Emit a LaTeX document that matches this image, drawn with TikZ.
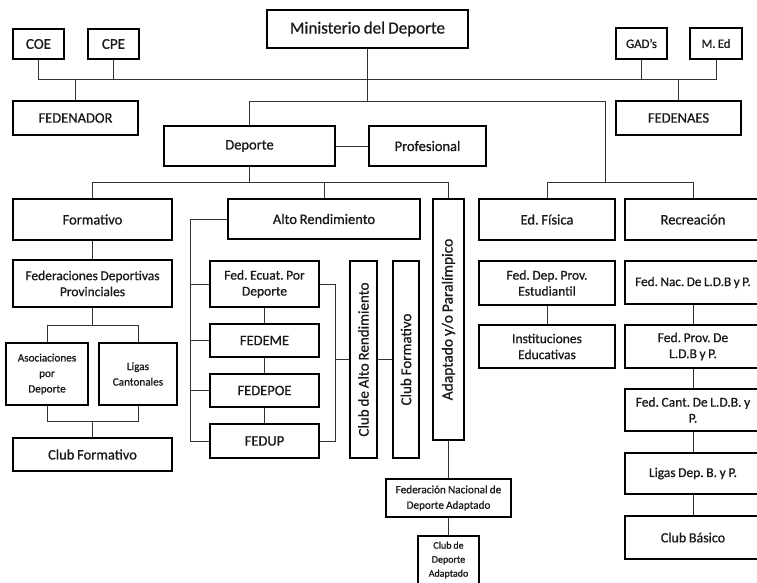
\documentclass[tikz,border=0pt]{standalone}
\usepackage{fontspec}
\setmainfont{Carlito}[FakeBold=0.8, WordSpace=0.85]
\frenchspacing
\begin{document}
\begin{tikzpicture}[x=1pt,y=-1pt,
  box/.style={draw=black, line width=1.8pt, align=center, inner sep=1pt, text=black!90, font=\fontsize{14.5}{16}\selectfont},
  mid/.style={font=\fontsize{13.5}{16}\selectfont},
  small/.style={font=\fontsize{11.2}{15.5}\selectfont},
  vlabel/.style={rotate=90, text=black!90, inner sep=0pt, font=\fontsize{15}{16}\selectfont},
  conn/.style={draw=black!80, line width=1pt}]
\useasboundingbox (0,0) rectangle (757,582);

% top level
\node[box, minimum width=51pt, minimum height=30pt, font=\fontsize{15}{16}\selectfont] (coe) at (38.5,44) {COE};
\node[box, minimum width=51pt, minimum height=30pt, font=\fontsize{15}{16}\selectfont] (cpe) at (113.5,44) {CPE};
\node[box, minimum width=201pt, minimum height=38pt, font=\fontsize{17}{18}\selectfont] (min) at (367.5,29) {Ministerio del Deporte};
\node[box, minimum width=51pt, minimum height=31pt, font=\fontsize{12.8}{14}\selectfont] (gad) at (641.5,43.5) {GAD’s};
\node[box, minimum width=52pt, minimum height=31pt, font=\fontsize{12.5}{14}\selectfont] (med) at (716,43.5) {M. Ed};
\node[box, minimum width=125pt, minimum height=34pt] (fedenador) at (75.5,118) {FEDENADOR};
\node[box, minimum width=125pt, minimum height=34pt] (fedenaes) at (678.5,118) {FEDENAES};
\node[box, minimum width=171pt, minimum height=40pt] (deporte) at (249.5,146) {Deporte};
\node[box, minimum width=117pt, minimum height=40pt] (prof) at (427.5,146) {Profesional};

% second level
\node[box, minimum width=159pt, minimum height=41pt] (formativo) at (92.5,219.5) {Formativo};
\node[box, minimum width=192pt, minimum height=40pt] (alto) at (324,219) {Alto Rendimiento};
\node[box, minimum width=31pt, minimum height=241pt] (adapt) at (448.5,319.5) {};
\node[vlabel, font=\fontsize{15.5}{16}\selectfont] (adaptlbl) at (adapt.center) {Adaptado y/o Paralímpico};
\node[box, minimum width=136pt, minimum height=41pt] (edf) at (547,219.5) {Ed. Física};
\node[box, minimum width=136pt, minimum height=41pt] (recr) at (693,219.5) {Recreación};

% formativo branch
\node[box, mid, minimum width=159pt, minimum height=47pt] (fdp) at (92.5,283.5) {Federaciones Deportivas\\Provinciales};
\node[box, small, minimum width=82pt, minimum height=62pt] (asoc) at (47,374) {Asociaciones\\por\\Deporte};
\node[box, small, minimum width=78pt, minimum height=62pt] (ligas) at (138,374) {Ligas\\Cantonales};
\node[box, minimum width=159pt, minimum height=33pt] (clubf) at (92.5,454.5) {Club Formativo};

% alto rendimiento branch
\node[box, mid, minimum width=109pt, minimum height=46pt] (fecu) at (264.5,284) {Fed. Ecuat. Por\\Deporte};
\node[box, minimum width=109pt, minimum height=33pt] (fedeme) at (264.5,340.5) {FEDEME};
\node[box, minimum width=109pt, minimum height=33pt] (fedepoe) at (264.5,390.5) {FEDEPOE};
\node[box, minimum width=109pt, minimum height=34pt] (fedup) at (264.5,441) {FEDUP};
\node[box, minimum width=27pt, minimum height=197pt] (clubar) at (363.5,359.5) {};
\node[vlabel] (clubarlbl) at (clubar.center) {Club de Alto Rendimiento};
\node[box, minimum width=26pt, minimum height=197pt] (clubfv) at (406,359.5) {};
\node[vlabel] (clubfvlbl) at (clubfv.center) {Club Formativo};

% adaptado branch
\node[box, small, minimum width=125pt, minimum height=38pt] (fnda) at (448.5,498) {Federación Nacional de\\Deporte Adaptado};
\node[box, minimum width=61pt, minimum height=48pt, font=\fontsize{10}{14}\selectfont] (cda) at (448.5,560) {Club de\\Deporte\\Adaptado};

% ed fisica branch
\node[box, mid, minimum width=136pt, minimum height=44pt] (fdpe) at (547,283) {Fed. Dep. Prov.\\Estudiantil};
\node[box, mid, minimum width=136pt, minimum height=43pt] (inst) at (547,346.5) {Instituciones\\Educativas};

% recreacion branch
\node[box, minimum width=136pt, minimum height=43pt, font=\fontsize{13.2}{16}\selectfont] (fnac) at (693,282.5) {Fed. Nac. De L.D.B y P.};
\node[box, mid, minimum width=136pt, minimum height=43pt] (fprov) at (693,346.5) {Fed. Prov. De\\L.D.B y P.};
\node[box, mid, minimum width=136pt, minimum height=42pt] (fcant) at (693,410) {Fed. Cant. De L.D.B. y\\P.};
\node[box, mid, minimum width=136pt, minimum height=41pt] (ligasdep) at (693,473.5) {Ligas Dep. B. y P.};
\node[box, minimum width=136pt, minimum height=43pt, font=\fontsize{14}{16}\selectfont] (clubb) at (693,537.5) {Club Básico};

% connectors
\coordinate (j1) at (38.5,79);
\coordinate (j2) at (716,79);
\draw[conn] (coe.south) -- (j1) -- (j2) -- (med.south);
\draw[conn] (cpe.south) -- (cpe.south |- j1);
\draw[conn] (gad.south) -- (gad.south |- j1);
\draw[conn] (fedenador.north) -- (fedenador.north |- j1);
\draw[conn, line width=1.6pt] (fedenaes.north) -- (fedenaes.north |- j1);
\coordinate (j3) at (605,101);
\coordinate (j4) at (605,182);
\draw[conn] (min.south) -- (min.south |- j3);
\draw[conn] (deporte.north) -- (deporte.north |- j3) -- (j3) -- (j4);
\draw[conn] (edf.north) -- (edf.north |- j4) -- (recr.north |- j4) -- (recr.north);
\draw[conn] (deporte.east) -- (prof.west);
\coordinate (j5) at (0,182);
\draw[conn] (deporte.south) -- (deporte.south |- j5);
\draw[conn] (formativo.north) -- (formativo.north |- j5) -- (adapt.north |- j5) -- (adapt.north);
\draw[conn] (alto.north) -- (alto.north |- j5);
\draw[conn] (formativo.south) -- (fdp.north);
\coordinate (j6) at (0,325);
\draw[conn] (fdp.south) -- (fdp.south |- j6);
\draw[conn] (asoc.north) -- (asoc.north |- j6) -- (ligas.north |- j6) -- (ligas.north);
\coordinate (j7) at (0,421);
\draw[conn] (asoc.south) -- (asoc.south |- j7) -- (ligas.south |- j7) -- (ligas.south);
\draw[conn] (clubf.north) -- (clubf.north |- j7);
\coordinate (r1) at (190,0);
\draw[conn] (alto.west) -- (alto.west -| r1) -- (fedup.west -| r1) -- (fedup.west);
\draw[conn] (fecu.west) -- (fecu.west -| r1);
\draw[conn] (fedeme.west) -- (fedeme.west -| r1);
\draw[conn] (fedepoe.west) -- (fedepoe.west -| r1);
\draw[conn] (fecu.south) -- (fedeme.north);
\draw[conn] (fedeme.south) -- (fedepoe.north);
\draw[conn] (fedepoe.south) -- (fedup.north);
\coordinate (r2) at (335,0);
\draw[conn] (fecu.east) -- (fecu.east -| r2) -- (fedup.east -| r2) -- (fedup.east);
\draw[conn] (clubar.west -| r2) -- (clubar.west);
\draw[conn] (clubar.east) -- (clubfv.west);
\draw[conn] (adapt.south) -- (fnda.north);
\draw[conn] (fnda.south) -- (cda.north);
\draw[conn] (fdpe.south) -- (inst.north);
\draw[conn] (fnac.south) -- (fprov.north);
\draw[conn] (fprov.south) -- (fcant.north);
\draw[conn] (fcant.south) -- (ligasdep.north);
\draw[conn] (ligasdep.south) -- (clubb.north);
\end{tikzpicture}
\end{document}
